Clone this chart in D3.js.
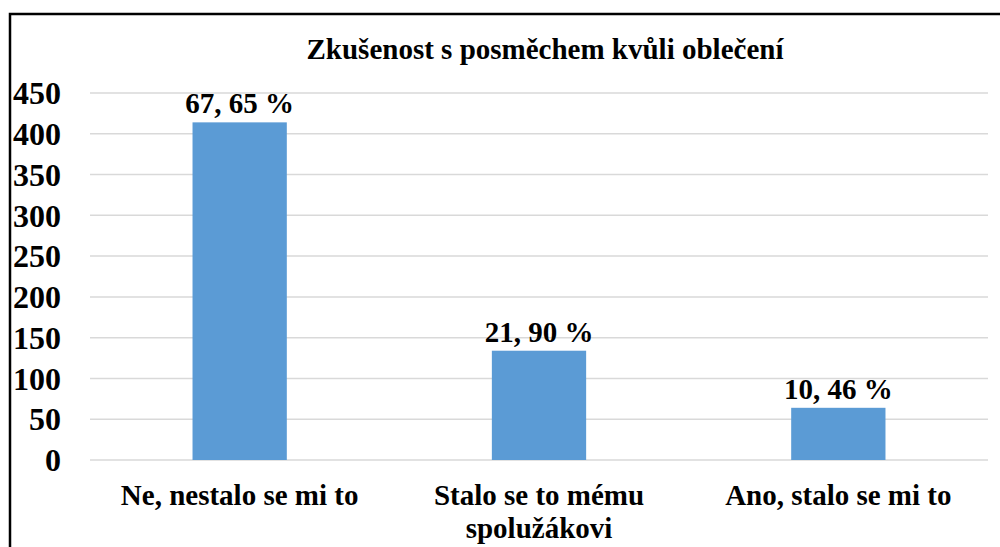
<!DOCTYPE html>
<html>
<head>
<meta charset="utf-8">
<script src="https://cdn.jsdelivr.net/npm/d3@7"></script>
<style>
  body { margin: 0; background: #fff; }
</style>
</head>
<body>
<svg id="chart" width="1000" height="547"></svg>
<script>
// data
var categories = ["Ne, nestalo se mi to", "Stalo se to mému spolužákovi", "Ano, stalo se mi to"]
var categoryLines = [["Ne, nestalo se mi to"], ["Stalo se to mému", "spolužákovi"], ["Ano, stalo se mi to"]]
var counts = [414, 134, 64]
var percentLabels = ["67, 65 %", "21, 90 %", "10, 46 %"]
var yTicks = [0, 50, 100, 150, 200, 250, 300, 350, 400, 450]
var title = "Zkušenost s posměchem kvůli oblečení"

var fontFamily = "'Liberation Serif', 'Times New Roman', serif"

var svg = d3.select("#chart")
var margin = {top: 93, right: 12, bottom: 87, left: 90}
var width = 1000 - margin.left - margin.right
var height = 547 - margin.top - margin.bottom

// frame (right/bottom edges run off the page like in the source)
svg.append("rect")
  .attr("x", 10).attr("y", 14)
  .attr("width", 1100).attr("height", 700)
  .attr("fill", "none").attr("stroke", "#000").attr("stroke-width", 2.5)

svg.append("text")
  .attr("x", 545).attr("y", 59)
  .attr("text-anchor", "middle")
  .attr("font-family", fontFamily).attr("font-weight", "bold")
  .attr("font-size", 29)
  .text(title)

var x = d3.scaleBand().domain(categories).range([0, width]).paddingInner(0.685).paddingOuter(0.3425)
var y = d3.scaleLinear().domain([0, 450]).range([height, 0])

var g = svg.append("g").attr("transform", "translate(" + margin.left + "," + margin.top + ")")
  .attr("font-family", fontFamily).attr("font-weight", "bold")

// gridlines
g.selectAll("line.grid").data(yTicks).enter().append("line")
  .attr("class", "grid")
  .attr("x1", 0).attr("x2", width)
  .attr("y1", d => y(d)).attr("y2", d => y(d))
  .attr("stroke", "#d9d9d9").attr("stroke-width", 1.5)

// y labels
g.selectAll("text.ytick").data(yTicks).enter().append("text")
  .attr("class", "ytick")
  .attr("x", -29).attr("y", d => y(d))
  .attr("dy", "0.35em")
  .attr("text-anchor", "end")
  .attr("font-size", 32)
  .text(d => d)

// bars
g.selectAll("rect.bar").data(counts).enter().append("rect")
  .attr("class", "bar")
  .attr("x", (d, i) => x(categories[i]))
  .attr("y", d => y(d))
  .attr("width", x.bandwidth())
  .attr("height", d => height - y(d))
  .attr("fill", "#5b9bd5")

// value labels
g.selectAll("text.val").data(counts).enter().append("text")
  .attr("class", "val")
  .attr("x", (d, i) => x(categories[i]) + x.bandwidth() / 2)
  .attr("y", d => y(d) - 9)
  .attr("text-anchor", "middle")
  .attr("font-size", 29)
  .text((d, i) => percentLabels[i])

// category labels
categoryLines.forEach(function(lines, i) {
  var t = g.append("text")
    .attr("x", x(categories[i]) + x.bandwidth() / 2)
    .attr("y", height + 45)
    .attr("text-anchor", "middle")
    .attr("font-size", 29)
  lines.forEach(function(line, j) {
    t.append("tspan")
      .attr("x", x(categories[i]) + x.bandwidth() / 2)
      .attr("dy", j == 0 ? 0 : 33)
      .text(line)
  })
})
</script>
</body>
</html>
